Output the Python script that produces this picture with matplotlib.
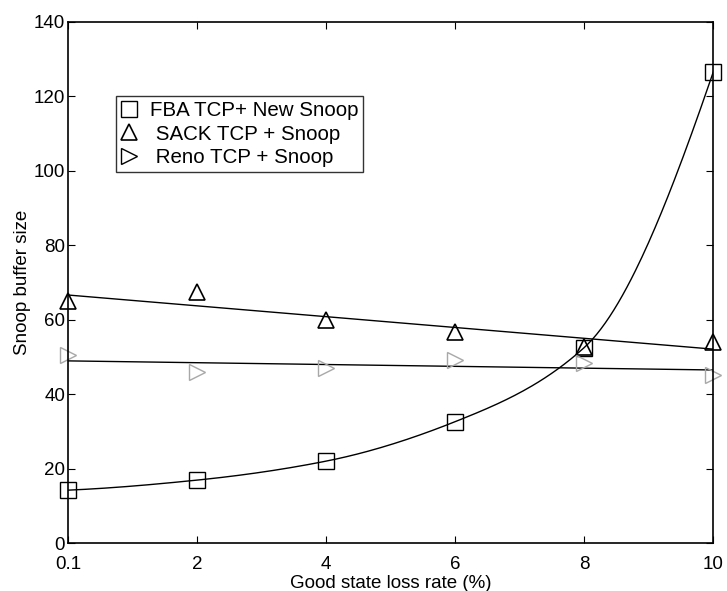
import matplotlib
matplotlib.use("Agg")
import matplotlib.pyplot as plt
import numpy as np

plt.rcParams['font.family'] = ['Liberation Sans', 'DejaVu Sans']

# loss rates (%) -- plotted at equal spacing
loss_labels = ['0.1', '2', '4', '6', '8', '10']

fba_new_snoop = [14.2, 16.9, 22.0, 32.6, 52.5, 126.5]
sack_snoop = [65.0, 67.5, 60.0, 56.8, 52.8, 54.1]
reno_snoop = [50.5, 46.0, 47.0, 49.2, 48.4, 45.2]


def pchip(x, y, xs):
    # shape-preserving piecewise cubic (Fritsch-Carlson slopes)
    x = np.asarray(x, float)
    y = np.asarray(y, float)
    h = np.diff(x)
    delta = np.diff(y) / h
    n = len(x)
    d = np.zeros(n)
    for k in range(1, n - 1):
        if delta[k - 1] * delta[k] > 0:
            w1 = 2 * h[k] + h[k - 1]
            w2 = h[k] + 2 * h[k - 1]
            d[k] = (w1 + w2) / (w1 / delta[k - 1] + w2 / delta[k])
    # end slopes
    d[0] = ((2 * h[0] + h[1]) * delta[0] - h[0] * delta[1]) / (h[0] + h[1])
    if np.sign(d[0]) != np.sign(delta[0]):
        d[0] = 0
    elif np.sign(delta[0]) != np.sign(delta[1]) and abs(d[0]) > abs(3 * delta[0]):
        d[0] = 3 * delta[0]
    d[-1] = ((2 * h[-1] + h[-2]) * delta[-1] - h[-1] * delta[-2]) / (h[-1] + h[-2])
    if np.sign(d[-1]) != np.sign(delta[-1]):
        d[-1] = 0
    elif np.sign(delta[-1]) != np.sign(delta[-2]) and abs(d[-1]) > abs(3 * delta[-1]):
        d[-1] = 3 * delta[-1]

    k = np.clip(np.searchsorted(x, xs) - 1, 0, n - 2)
    t = (xs - x[k]) / h[k]
    h00 = 2 * t**3 - 3 * t**2 + 1
    h10 = t**3 - 2 * t**2 + t
    h01 = -2 * t**3 + 3 * t**2
    h11 = t**3 - t**2
    return h00 * y[k] + h10 * h[k] * d[k] + h01 * y[k + 1] + h11 * h[k] * d[k + 1]


x = np.arange(1, len(loss_labels) + 1)
xs = np.linspace(1, len(loss_labels), 300)

fig = plt.figure(figsize=(7.27, 5.91), dpi=100)
ax = fig.add_axes([0.0935, 0.0812, 0.8875, 0.8816])

# fitted curves
ax.plot(xs, pchip(x, fba_new_snoop, xs), color='black', lw=1)
ax.plot(xs, np.polyval(np.polyfit(x, sack_snoop, 1), xs), color='black', lw=1)
ax.plot(xs, np.polyval(np.polyfit(x, reno_snoop, 1), xs), color='black', lw=1)

# measured points
ax.plot(x, fba_new_snoop, 's', ms=11, mfc='none', mec='black', mew=1, clip_on=False,
        label='FBA TCP+ New Snoop')
ax.plot(x, sack_snoop, '^', ms=12, mfc='none', mec='black', mew=1.2, clip_on=False,
        label=' SACK TCP + Snoop')
ax.plot(x, reno_snoop, '>', ms=12, mfc='none', mec='#a8a8a8', mew=1, clip_on=False,
        label=' Reno TCP + Snoop')

ax.set_xlim(1, 6)
ax.set_ylim(0, 140)
ax.set_xticks(x)
ax.set_xticklabels(loss_labels)
ax.set_yticks(range(0, 141, 20))
ax.tick_params(direction='in', top=True, right=True, length=5, labelsize=13.5)
ax.tick_params(axis='x', pad=9)
ax.tick_params(axis='y', pad=2)
for s in ax.spines.values():
    s.set_linewidth(1.2)

ax.set_xlabel('Good state loss rate (%)', fontsize=13.5, labelpad=2)
ax.set_ylabel('Snoop buffer size', fontsize=13.5, labelpad=2)

leg = ax.legend(loc='upper left', bbox_to_anchor=(0.074, 0.858), fontsize=14.8,
                frameon=True, fancybox=False, edgecolor='black', handlelength=0.8,
                handletextpad=0.6, borderpad=0.25, labelspacing=0.22, borderaxespad=0)
leg.get_frame().set_linewidth(1)
leg.legend_handles[2].set_markeredgecolor('black')

fig.savefig('out.png', dpi=100)
